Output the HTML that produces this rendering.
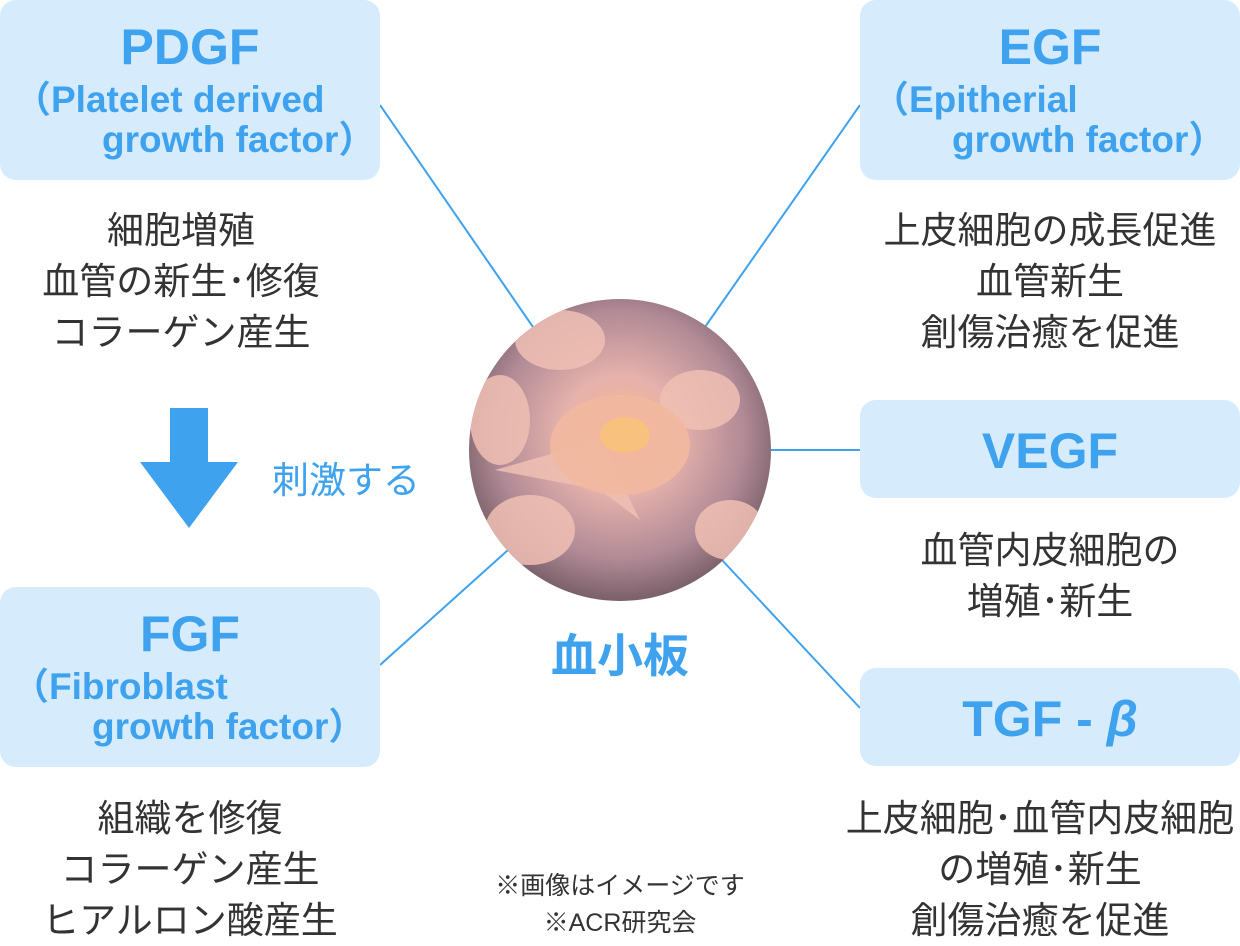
<!DOCTYPE html>
<html><head><meta charset="utf-8"><style>
*{margin:0;padding:0;box-sizing:border-box}
body{width:1240px;height:940px;background:#fff;position:relative;overflow:hidden;font-family:"Liberation Sans","Noto Sans CJK JP",sans-serif}
.box{position:absolute;background:#d6ebfc;border-radius:16px;color:#3ea2ee;font-weight:bold}
.t{position:absolute;width:100%;text-align:center;font-size:50px;line-height:50px}
.s{position:absolute;font-size:37px;line-height:40px;white-space:nowrap}
.d{position:absolute;text-align:center;color:#333;font-size:37px;line-height:51px;white-space:nowrap}
</style></head><body>
<svg width="1240" height="940" style="position:absolute;left:0;top:0">
<g stroke="#3ea2ee" stroke-width="2">
<line x1="380" y1="105" x2="533" y2="327"/>
<line x1="860" y1="105" x2="705" y2="327"/>
<line x1="770" y1="450" x2="860" y2="450"/>
<line x1="722" y1="560" x2="860" y2="708"/>
<line x1="380" y1="665" x2="508" y2="550"/>
</g>
<defs>
<radialGradient id="g" cx="0.5" cy="0.45" r="0.55">
<stop offset="0" stop-color="#f6b58a"/>
<stop offset="0.35" stop-color="#e6b2ac"/>
<stop offset="0.75" stop-color="#b08a96"/>
<stop offset="1" stop-color="#7a6068"/>
</radialGradient>
<clipPath id="c"><circle cx="620" cy="450" r="151"/></clipPath></defs>
<circle cx="620" cy="450" r="151" fill="url(#g)"/>
<g clip-path="url(#c)" fill="#f0c0b4" opacity="0.85">
<ellipse cx="560" cy="340" rx="45" ry="30"/>
<ellipse cx="700" cy="400" rx="40" ry="30"/>
<ellipse cx="500" cy="420" rx="30" ry="45"/>
<ellipse cx="530" cy="530" rx="45" ry="35"/>
<ellipse cx="730" cy="530" rx="35" ry="30"/>
<polygon points="495,470 600,440 640,520 600,490"/>
</g>
<ellipse cx="620" cy="445" rx="70" ry="50" fill="#f2b8a0" opacity="0.9"/>
<ellipse cx="625" cy="435" rx="25" ry="18" fill="#f9c27a" opacity="0.9"/>
<rect x="170" y="408" width="38" height="56" fill="#3ea2ee"/>
<polygon points="140,462 238,462 189,528" fill="#3ea2ee"/>
</svg>

<div class="box" style="left:0;top:0;width:380px;height:180px">
<div class="t" style="top:22px">PDGF</div>
<div class="s" style="left:14px;top:80px">（Platelet derived</div>
<div class="s" style="left:102px;top:120px">growth factor）</div>
</div>
<div class="box" style="left:860px;top:0;width:380px;height:180px">
<div class="t" style="top:22px">EGF</div>
<div class="s" style="left:12px;top:80px">（Epitherial</div>
<div class="s" style="left:92px;top:120px">growth factor）</div>
</div>
<div class="box" style="left:860px;top:400px;width:380px;height:98px">
<div class="t" style="top:26px">VEGF</div>
</div>
<div class="box" style="left:860px;top:668px;width:380px;height:98px">
<div class="t" style="top:26px">TGF - <i>β</i></div>
</div>
<div class="box" style="left:0;top:587px;width:380px;height:180px">
<div class="t" style="top:22px">FGF</div>
<div class="s" style="left:12px;top:80px">（Fibroblast</div>
<div class="s" style="left:92px;top:120px">growth factor）</div>
</div>

<div class="d" style="left:0;width:362px;top:205px">細胞増殖<br>血管の新生･修復<br>コラーゲン産生</div>
<div class="d" style="left:860px;width:380px;top:205px">上皮細胞の成長促進<br>血管新生<br>創傷治癒を促進</div>
<div class="d" style="left:860px;width:380px;top:525px">血管内皮細胞の<br>増殖･新生</div>
<div class="d" style="left:840px;width:400px;top:793px">上皮細胞･血管内皮細胞<br>の増殖･新生<br>創傷治癒を促進</div>
<div class="d" style="left:0;width:380px;top:793px">組織を修復<br>コラーゲン産生<br>ヒアルロン酸産生</div>

<div style="position:absolute;left:272px;top:450px;color:#3ea2ee;font-size:37px">刺激する</div>
<div style="position:absolute;left:520px;top:620px;width:200px;text-align:center;color:#3ea2ee;font-size:46px;font-weight:bold">血小板</div>
<div style="position:absolute;left:460px;top:868px;width:320px;text-align:center;color:#333;font-size:25px;line-height:37px">※画像はイメージです<br>※ACR研究会</div>
</body></html>
